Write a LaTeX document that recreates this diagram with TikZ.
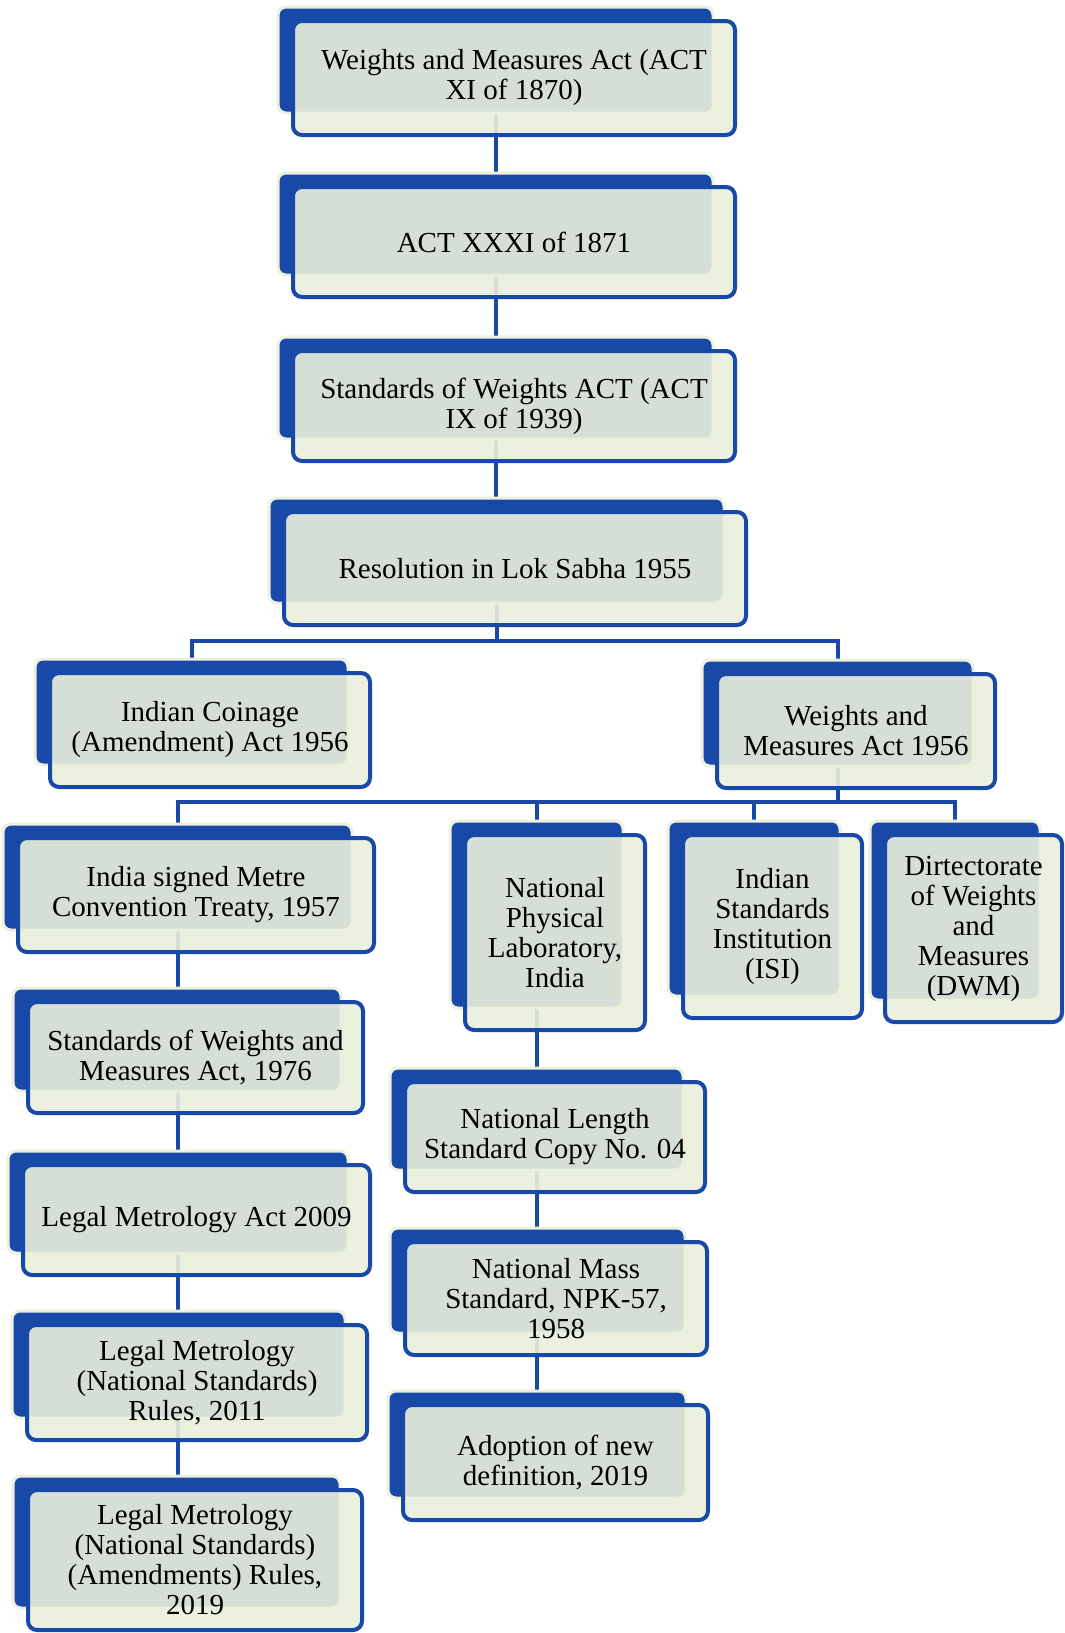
\documentclass[tikz,border=0pt]{standalone}
\usepackage{fontspec}
\setmainfont{Liberation Serif}
\usetikzlibrary{backgrounds}
\definecolor{dblue}{RGB}{24,72,168}
\definecolor{cream}{RGB}{234,240,220}
\definecolor{paleedge}{RGB}{236,240,222}
\tikzset{
  backbox/.style={rectangle, rounded corners=8pt, fill=dblue, draw=paleedge, line width=3pt, inner sep=0pt, outer sep=0pt},
  frontbox/.style={rectangle, rounded corners=9pt, fill=cream, fill opacity=0.9, text opacity=1, draw=dblue, draw opacity=1, line width=4pt, inner sep=0pt, outer sep=0pt, align=center, font={\fontsize{29}{30}\selectfont}},
  conn/.style={draw=dblue, line width=4pt},
}
\newcommand\entrybox[6]{%
  \node[backbox, minimum width={#4-#2-7}, minimum height={#5-#3-8}] (#1) at ({(#2-15+#4-22)/2},{(#3-14+#5-22)/2}) {};
  \node[frontbox, minimum width={#4-#2}, minimum height={#5-#3}] (#1f) at ({(#2+#4)/2},{(#3+#5)/2}) {#6};
}
\begin{document}
\begin{tikzpicture}[x=1pt,y=-1pt]
\useasboundingbox (0,0) rectangle (1065,1633);
\entrybox{b1}{293}{21}{735}{135}{Weights and Measures Act (ACT\\XI of 1870)}
\entrybox{b2}{293}{187}{735}{297}{ACT XXXI of 1871}
\entrybox{b3}{293}{351}{735}{461}{Standards of Weights ACT (ACT\\IX of 1939)}
\entrybox{b4}{284}{512}{746}{625}{Resolution in Lok Sabha 1955}
\entrybox{b5}{50}{673}{370}{787}{Indian Coinage\\(Amendment) Act 1956}
\entrybox{b6}{717}{674}{995}{788}{Weights and\\Measures Act 1956}
\entrybox{b7}{18}{838}{374}{952}{India signed Metre\\Convention Treaty, 1957}
\entrybox{b8}{465}{835}{645}{1030}{National\\Physical\\Laboratory,\\India}
\entrybox{b9}{683}{835}{862}{1018}{Indian\\Standards\\Institution\\(ISI)}
\entrybox{b10}{885}{835}{1062}{1022}{Dirtectorate\\of Weights\\and\\Measures\\(DWM)}
\entrybox{b11}{28}{1002}{363}{1113}{Standards of Weights and\\Measures Act, 1976}
\entrybox{b12}{23}{1165}{370}{1275}{Legal Metrology Act 2009}
\entrybox{b13}{27}{1325}{367}{1440}{Legal Metrology\\(National Standards)\\Rules, 2011}
\entrybox{b14}{28}{1490}{362}{1630}{Legal Metrology\\(National Standards)\\(Amendments) Rules,\\2019}
\entrybox{b15}{405}{1082}{705}{1192}{National Length\\Standard Copy No. 04}
\entrybox{b16}{405}{1242}{707}{1355}{National Mass\\Standard, NPK-57,\\1958}
\entrybox{b17}{403}{1405}{708}{1520}{Adoption of new\\definition, 2019}
\begin{pgfonlayer}{background}
\fill[white] (0,0) rectangle (1065,1633);
\coordinate (bar1) at (0,641);
\coordinate (bar2) at (0,802);
\draw[conn] (b1.south) -- (b1.south |- b2.north);
\draw[conn] (b2.south) -- (b2.south |- b3.north);
\draw[conn] (b3.south) -- (b3.south |- b4.north);
\draw[conn] (b4.south) -- (b4.south |- bar1);
\draw[conn] (b5.north) |- (b6.north |- bar1) -- (b6.north);
\draw[conn] (b6.south) -- (b6.south |- bar2);
\draw[conn] (b7.north) |- (b10.north |- bar2) -- (b10.north);
\draw[conn] (b8.north) -- (b8.north |- bar2);
\draw[conn] (b9.north) -- (b9.north |- bar2);
\draw[conn] (b7.south) -- (b7.south |- b11.north);
\draw[conn] (b7.south |- b11.south) -- (b7.south |- b12.north);
\draw[conn] (b7.south |- b12.south) -- (b7.south |- b13.north);
\draw[conn] (b7.south |- b13.south) -- (b7.south |- b14.north);
\draw[conn] (b8.south) -- (b8.south |- b15.north);
\draw[conn] (b8.south |- b15.south) -- (b8.south |- b16.north);
\draw[conn] (b8.south |- b16.south) -- (b8.south |- b17.north);
\end{pgfonlayer}
\end{tikzpicture}
\end{document}
